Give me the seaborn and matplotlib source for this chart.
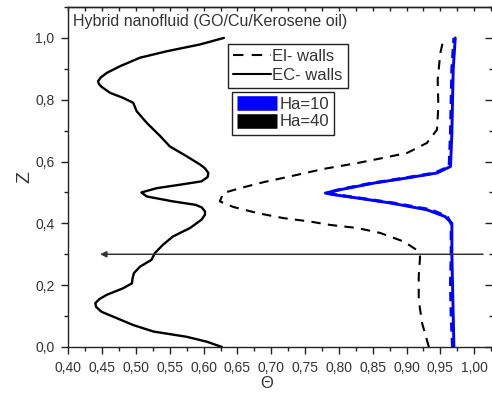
import matplotlib
matplotlib.use("Agg")
import matplotlib.pyplot as plt
from matplotlib.ticker import MultipleLocator, FuncFormatter
from matplotlib.lines import Line2D
import numpy as np
import pandas as pd
import seaborn as sns

# Temperature profiles Theta(Z) for the GO/Cu/kerosene hybrid nanofluid
z_ec_ha40 = [0.000, 0.017, 0.033, 0.050, 0.071, 0.093, 0.114, 0.130, 0.142, 0.155,
             0.169, 0.190, 0.206, 0.222, 0.239, 0.260, 0.282, 0.304, 0.331, 0.358,
             0.385, 0.412, 0.428, 0.439, 0.452, 0.460, 0.471, 0.487, 0.500, 0.514,
             0.525, 0.536, 0.550, 0.563, 0.578, 0.590, 0.617, 0.649, 0.682, 0.725,
             0.763, 0.790, 0.806, 0.822, 0.842, 0.852, 0.860, 0.872, 0.887, 0.909,
             0.936, 0.957, 0.979, 1.000]
theta_ec_ha40 = [0.627, 0.605, 0.575, 0.526, 0.496, 0.472, 0.449, 0.441, 0.440, 0.446,
                 0.457, 0.481, 0.494, 0.495, 0.497, 0.506, 0.523, 0.528, 0.540, 0.555,
                 0.580, 0.597, 0.602, 0.602, 0.597, 0.588, 0.555, 0.516, 0.508, 0.531,
                 0.565, 0.597, 0.606, 0.607, 0.602, 0.595, 0.575, 0.550, 0.536, 0.516,
                 0.501, 0.496, 0.481, 0.462, 0.449, 0.445, 0.444, 0.448, 0.457, 0.477,
                 0.506, 0.546, 0.595, 0.630]

z_ei_ha40 = [0.000, 0.077, 0.152, 0.228, 0.293, 0.314, 0.341, 0.369, 0.385, 0.395,
             0.406, 0.417, 0.433, 0.453, 0.471, 0.498, 0.514, 0.534, 0.552, 0.576,
             0.595, 0.612, 0.628, 0.660, 0.703, 0.779, 0.865, 0.952, 1.000]
theta_ei_ha40 = [0.933, 0.923, 0.918, 0.918, 0.920, 0.915, 0.896, 0.861, 0.827, 0.787,
                 0.757, 0.718, 0.680, 0.644, 0.624, 0.629, 0.654, 0.690, 0.728, 0.777,
                 0.827, 0.866, 0.901, 0.930, 0.945, 0.947, 0.946, 0.950, 0.955]

z_ha10 = [0.000, 0.100, 0.200, 0.300, 0.400, 0.422, 0.444, 0.466, 0.482, 0.493,
          0.498, 0.509, 0.530, 0.547, 0.563, 0.584, 0.693, 0.800, 0.900, 1.000]
theta_ec_ha10 = [0.970, 0.969, 0.968, 0.967, 0.967, 0.957, 0.930, 0.876, 0.827, 0.792,
                 0.780, 0.802, 0.851, 0.901, 0.945, 0.965, 0.967, 0.968, 0.969, 0.972]
theta_ei_ha10 = [0.968, 0.966, 0.965, 0.966, 0.966, 0.960, 0.936, 0.880, 0.830, 0.795,
                 0.782, 0.800, 0.848, 0.898, 0.942, 0.963, 0.965, 0.966, 0.967, 0.970]

wall_labels = ["El- walls", "EC- walls"]
ha_labels = ["Ha=10", "Ha=40"]
x_ticks = [0.40, 0.45, 0.50, 0.55, 0.60, 0.65, 0.70, 0.75, 0.80, 0.85, 0.90, 0.95, 1.00]
y_ticks = [0.0, 0.2, 0.4, 0.6, 0.8, 1.0]

TXT = "#333333"

sns.set_style("ticks")
plt.rcParams["font.family"] = ["Liberation Sans", "DejaVu Sans"]
plt.rcParams["axes.edgecolor"] = "#222222"
plt.rcParams["axes.linewidth"] = 1.0

fig = plt.figure(figsize=(4.92, 3.94), dpi=100)
ax = fig.add_axes([68.3 / 492, 47 / 394, (494.5 - 68.3) / 492, 340 / 394])

curves = [
    (theta_ei_ha10, z_ha10, "#0000FF", (3, 2), 2.2),
    (theta_ec_ha10, z_ha10, "#0000FF", None, 2.1),
    (theta_ec_ha40, z_ec_ha40, "black", None, 1.7),
    (theta_ei_ha40, z_ei_ha40, "black", (4.5, 3.5), 1.5),
]
for th, zz, col, dash, lw in curves:
    df = pd.DataFrame({"theta": th, "z": zz})
    sns.lineplot(data=df, x="theta", y="z", orient="y", sort=False, estimator=None,
                 color=col, lw=lw, ax=ax, legend=False)
    line = ax.lines[-1]
    line.set_solid_joinstyle("round")
    line.set_dash_joinstyle("round")
    if dash is not None:
        line.set_dashes(dash)

# horizontal arrow at Z = 0.3
ax.annotate("", xy=(0.447, 0.3), xytext=(1.013, 0.3),
            arrowprops=dict(arrowstyle="-|>", color="#333333", lw=1.1,
                            mutation_scale=9, shrinkA=0, shrinkB=0))

ax.set_xlim(0.40, 1.03)
ax.set_ylim(0.0, 1.1)
ax.set_xticks(x_ticks)
ax.set_yticks(y_ticks)
ax.xaxis.set_minor_locator(MultipleLocator(0.025))
ax.yaxis.set_minor_locator(MultipleLocator(0.1))
ax.xaxis.set_major_formatter(FuncFormatter(lambda v, p: f"{v:.2f}".replace(".", ",")))
ax.yaxis.set_major_formatter(FuncFormatter(lambda v, p: f"{v:.1f}".replace(".", ",")))
ax.tick_params(axis="both", which="major", direction="out", length=5, width=1,
               labelsize=10, labelcolor=TXT, color="#222222", pad=5)
ax.tick_params(axis="both", which="minor", direction="out", length=3, width=1,
               color="#222222")
for s in ["top", "right"]:
    ax.spines[s].set_visible(True)

# inward ticks on the top and right edges
top = ax.secondary_xaxis("top")
top.xaxis.set_major_locator(MultipleLocator(0.025))
top.tick_params(direction="in", length=3, width=1, labeltop=False, color="#222222")
right = ax.secondary_yaxis("right")
right.yaxis.set_major_locator(MultipleLocator(0.2))
right.yaxis.set_minor_locator(MultipleLocator(0.1))
right.tick_params(which="major", direction="in", length=7, width=1, labelright=False, color="#222222")
right.tick_params(which="minor", direction="in", length=4, width=1, color="#222222")

ax.set_xlabel("Θ", fontsize=12, color=TXT)
ax.xaxis.set_label_coords((267 - 68.3) / 426.2, (347 - 384) / 340)
ax.xaxis.label.set_va("center")
ax.set_ylabel("Z", fontsize=14, color=TXT)
ax.yaxis.set_label_coords((25 - 68.3) / 426.2, 0.5)
ax.yaxis.label.set_va("center")

ax.text(0.011, 0.958, "Hybrid nanofluid (GO/Cu/Kerosene oil)", transform=ax.transAxes,
        fontsize=11.5, color=TXT, ha="left", va="center")

# legend for wall type
wall_handles = [Line2D([], [], color="black", lw=1.5, dashes=(5, 4)),
                Line2D([], [], color="black", lw=1.5)]
leg1 = ax.legend(wall_handles, wall_labels, loc="upper left",
                 bbox_to_anchor=((228 - 68.3) / 426.2, (347 - 44) / 340),
                 fontsize=12, frameon=True, fancybox=False, framealpha=1,
                 edgecolor="#222222", borderpad=0.3, borderaxespad=0,
                 handlelength=2.25, handletextpad=0.1, labelspacing=0.22)
leg1.get_frame().set_linewidth(1.0)
for t in leg1.get_texts():
    t.set_color(TXT)
ax.add_artist(leg1)

# legend for Hartmann number
ha_handles = [Line2D([], [], color="#0000FF", lw=10.5, solid_capstyle="butt"),
              Line2D([], [], color="black", lw=10.5, solid_capstyle="butt")]
leg2 = ax.legend(ha_handles, ha_labels, loc="upper left",
                 bbox_to_anchor=((232 - 68.3) / 426.2, (347 - 92) / 340),
                 fontsize=12, frameon=True, fancybox=False, framealpha=1,
                 edgecolor="#222222", borderpad=0.3, borderaxespad=0,
                 handlelength=2.4, handletextpad=0.15, labelspacing=0.15)
leg2.get_frame().set_linewidth(1.0)
for t in leg2.get_texts():
    t.set_color(TXT)

fig.savefig("out.png", dpi=100)
